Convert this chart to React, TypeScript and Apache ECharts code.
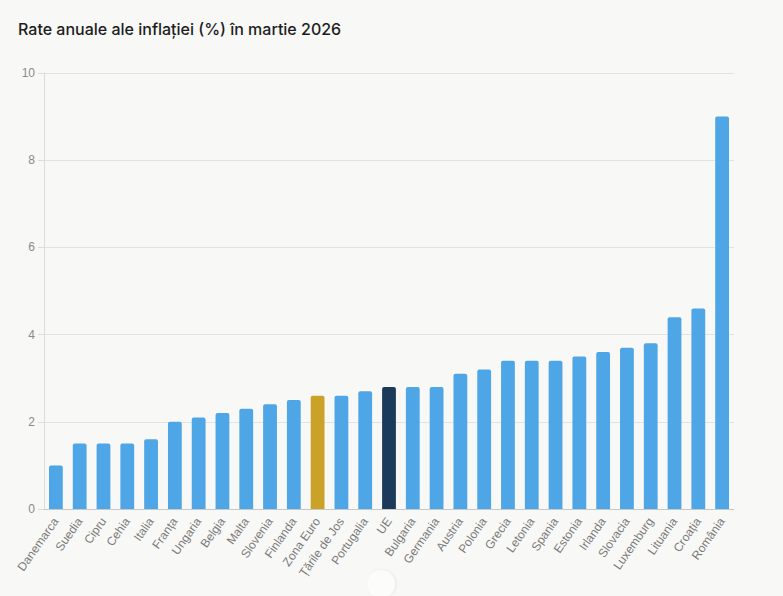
import React, { useEffect, useRef } from 'react';
import * as echarts from 'echarts';

// 国家 / 区域
const categories = [
  'Danemarca', 'Suedia', 'Cipru', 'Cehia', 'Italia', 'Franța', 'Ungaria', 'Belgia',
  'Malta', 'Slovenia', 'Finlanda', 'Zona Euro', 'Țările de Jos', 'Portugalia', 'UE',
  'Bulgaria', 'Germania', 'Austria', 'Polonia', 'Grecia', 'Letonia', 'Spania',
  'Estonia', 'Irlanda', 'Slovacia', 'Luxemburg', 'Lituania', 'Croația', 'România',
];

const inflation = [
  1.0, 1.5, 1.5, 1.5, 1.6, 2.0, 2.1, 2.2,
  2.3, 2.4, 2.5, 2.6, 2.6, 2.7, 2.8,
  2.8, 2.8, 3.1, 3.2, 3.4, 3.4, 3.4,
  3.5, 3.6, 3.7, 3.8, 4.4, 4.6, 9.0,
];

const yTicks = [0, 2, 4, 6, 8, 10];

const BLUE = '#4ea6e6';
const HIGHLIGHT: Record<string, string> = {
  'Zona Euro': '#c9a227',
  UE: '#1c3a5a',
};

export default function App() {
  const chartRef = useRef<HTMLDivElement>(null);

  useEffect(() => {
    document.body.style.margin = '0';
    if (!chartRef.current) return;
    const chart = echarts.init(chartRef.current, null, { renderer: 'svg' });

    chart.setOption({
      animation: false,
      backgroundColor: '#f8f8f6',
      title: {
        text: 'Rate anuale ale inflației (%) în martie 2026',
        left: 13,
        top: 16,
        textStyle: {
          fontFamily: 'Inter',
          fontSize: 16,
          fontWeight: 500,
          color: '#1d1d1d',
        },
      },
      grid: { left: 44, right: 49, top: 73, bottom: 87 },
      xAxis: {
        type: 'category',
        data: categories,
        axisLine: { lineStyle: { color: '#c8c8c8' } },
        axisTick: { show: false },
        axisLabel: {
          interval: 0,
          rotate: 55,
          color: '#7a7a7a',
          fontSize: 12,
          fontFamily: 'Liberation Sans',
          margin: 10,
        },
      },
      yAxis: {
        type: 'value',
        min: yTicks[0],
        max: yTicks[yTicks.length - 1],
        interval: 2,
        axisLine: { show: true, lineStyle: { color: '#dcdcdc' } },
        axisTick: { show: true, length: 6, lineStyle: { color: '#dcdcdc' } },
        axisLabel: { color: '#8a8a8a', fontSize: 12, fontFamily: 'Liberation Sans', margin: 9 },
        splitLine: { lineStyle: { color: '#e2e2e2' } },
      },
      series: [
        {
          type: 'bar',
          barWidth: '58%',
          data: inflation.map((v, i) => ({
            value: v,
            itemStyle: {
              color: HIGHLIGHT[categories[i]] ?? BLUE,
              borderRadius: [2, 2, 0, 0],
            },
          })),
        },
      ],
      graphic: [
        {
          type: 'circle',
          shape: { cx: 381, cy: 584, r: 14 },
          style: {
            fill: '#fcfcfb',
            shadowBlur: 3,
            shadowOffsetX: 1,
            shadowColor: 'rgba(0,0,0,0.08)',
          },
        },
      ],
    });

    const handleResize = () => chart.resize();
    window.addEventListener('resize', handleResize);
    return () => {
      window.removeEventListener('resize', handleResize);
      chart.dispose();
    };
  }, []);

  return <div ref={chartRef} style={{ width: 783, height: 596 }} />;
}
